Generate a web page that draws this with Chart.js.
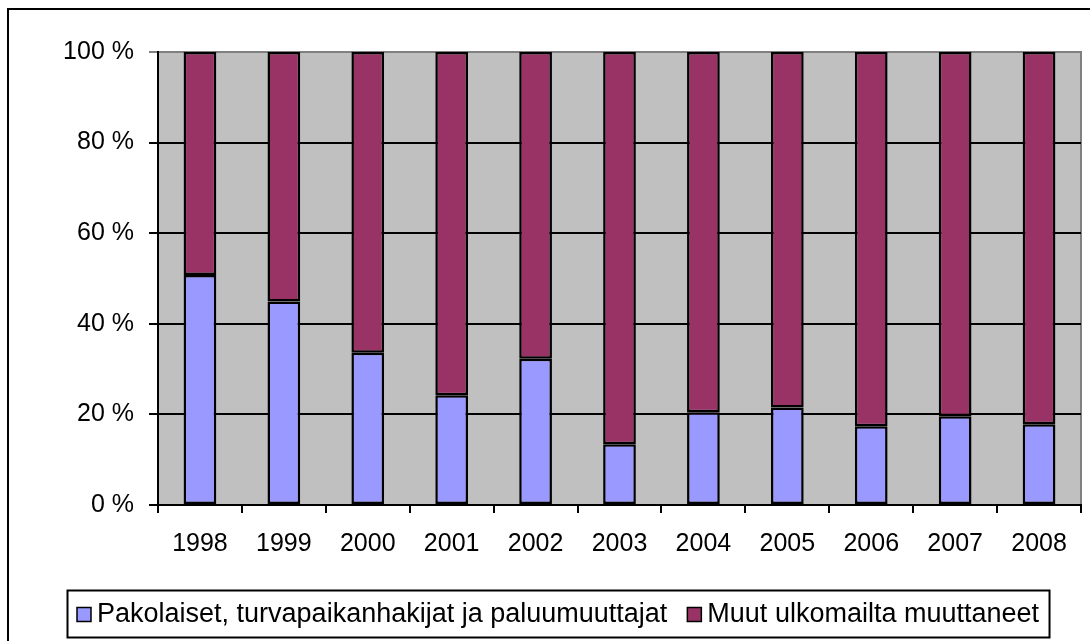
<!DOCTYPE html>
<html>
<head>
<meta charset="utf-8">
<script src="https://cdn.jsdelivr.net/npm/chart.js@4/dist/chart.umd.min.js"></script>
<style>
  html, body { margin: 0; padding: 0; background: #fff; }
  #wrap { width: 1090px; height: 641px; }
</style>
</head>
<body>
<div id="wrap"><canvas id="chart" width="1090" height="641"></canvas></div>
<script>
const years = ['1998', '1999', '2000', '2001', '2002', '2003', '2004', '2005', '2006', '2007', '2008'];
const refugees = [50.8, 44.9, 33.6, 24.2, 32.3, 13.4, 20.5, 21.5, 17.4, 19.6, 17.8];
const others = [49.2, 55.1, 66.4, 75.8, 67.7, 86.6, 79.5, 78.5, 82.6, 80.4, 82.2];
const seriesNames = ['Pakolaiset, turvapaikanhakijat ja paluumuuttajat', 'Muut ulkomailta muuttaneet'];
const yTicks = [0, 20, 40, 60, 80, 100];

const FONT = '"Liberation Sans", Arial, sans-serif';

// grey plot background, outer frame, and the boxed legend
const framePlugin = {
  id: 'frame',
  beforeDraw(chart) {
    const { ctx, chartArea: a } = chart;
    ctx.save();
    ctx.fillStyle = '#fff';
    ctx.fillRect(0, 0, chart.width, chart.height);
    ctx.strokeStyle = '#000';
    ctx.lineWidth = 2;
    ctx.strokeRect(8, 9, chart.width + 10, chart.height + 10);
    ctx.fillStyle = '#C0C0C0';
    ctx.fillRect(a.left, a.top, a.right - a.left, a.bottom - a.top);
    ctx.strokeStyle = '#808080';
    ctx.beginPath();
    ctx.moveTo(a.left, a.top);
    ctx.lineTo(a.right, a.top);
    ctx.lineTo(a.right, a.bottom);
    ctx.stroke();
    ctx.restore();
  },
  afterDraw(chart) {
    const { ctx } = chart;
    const ds = chart.data.datasets;
    ctx.save();
    ctx.font = '27px ' + FONT;
    ctx.textBaseline = 'middle';
    const box = 14, gap = 6, itemGap = 20, pad = 10;
    let total = 0;
    ds.forEach((d, i) => {
      total += box + gap + ctx.measureText(d.label).width;
      if (i < ds.length - 1) total += itemGap;
    });
    const left = 67;
    const top = 590, h = 47;
    ctx.strokeStyle = '#000';
    ctx.lineWidth = 2;
    ctx.strokeRect(left + 0.5, top + 0.5, total + pad * 2, h);
    let x = left + pad;
    const cy = top + h / 2 + 1;
    ds.forEach(d => {
      ctx.fillStyle = d.backgroundColor;
      ctx.fillRect(x, cy - 7, box, box);
      ctx.lineWidth = 1.5;
      ctx.strokeRect(x, cy - 7, box, box);
      x += box + gap;
      ctx.fillStyle = '#000';
      ctx.fillText(d.label, x, cy);
      x += ctx.measureText(d.label).width + itemGap;
    });
    ctx.restore();
  }
};

new Chart(document.getElementById('chart'), {
  type: 'bar',
  data: {
    labels: years,
    datasets: [
      {
        label: seriesNames[0],
        data: refugees,
        backgroundColor: '#9999FF',
        borderColor: '#000',
        borderWidth: 2.5,
        borderSkipped: false
      },
      {
        label: seriesNames[1],
        data: others,
        backgroundColor: '#993366',
        borderColor: '#000',
        borderWidth: 2.5,
        borderSkipped: false
      }
    ]
  },
  options: {
    responsive: false,
    animation: false,
    layout: { padding: { left: 0, right: 9, top: 52, bottom: 76 } },
    datasets: { bar: { barPercentage: 0.39, categoryPercentage: 1 } },
    plugins: {
      legend: { display: false },
      tooltip: { enabled: false }
    },
    scales: {
      x: {
        stacked: true,
        grid: {
          offset: true,
          drawOnChartArea: false,
          color: '#000',
          lineWidth: 2,
          tickLength: 8
        },
        border: { color: '#000', width: 2 },
        ticks: {
          color: '#000',
          font: { family: FONT, size: 25 },
          padding: 16,
          maxRotation: 0
        },
        afterFit(scale) { scale.height = 60; }
      },
      y: {
        stacked: true,
        min: 0,
        max: 100,
        afterBuildTicks(scale) { scale.ticks = yTicks.map(v => ({ value: v })); },
        grid: {
          color: ctx => (ctx.tick && ctx.tick.value === 100 ? '#808080' : '#000'),
          lineWidth: 2,
          tickLength: 9
        },
        border: { color: '#000', width: 2 },
        ticks: {
          color: '#000',
          font: { family: FONT, size: 25 },
          padding: 15,
          callback: v => v + ' %'
        },
        afterFit(scale) { scale.width = 158; }
      }
    }
  },
  plugins: [framePlugin]
});
</script>
</body>
</html>
